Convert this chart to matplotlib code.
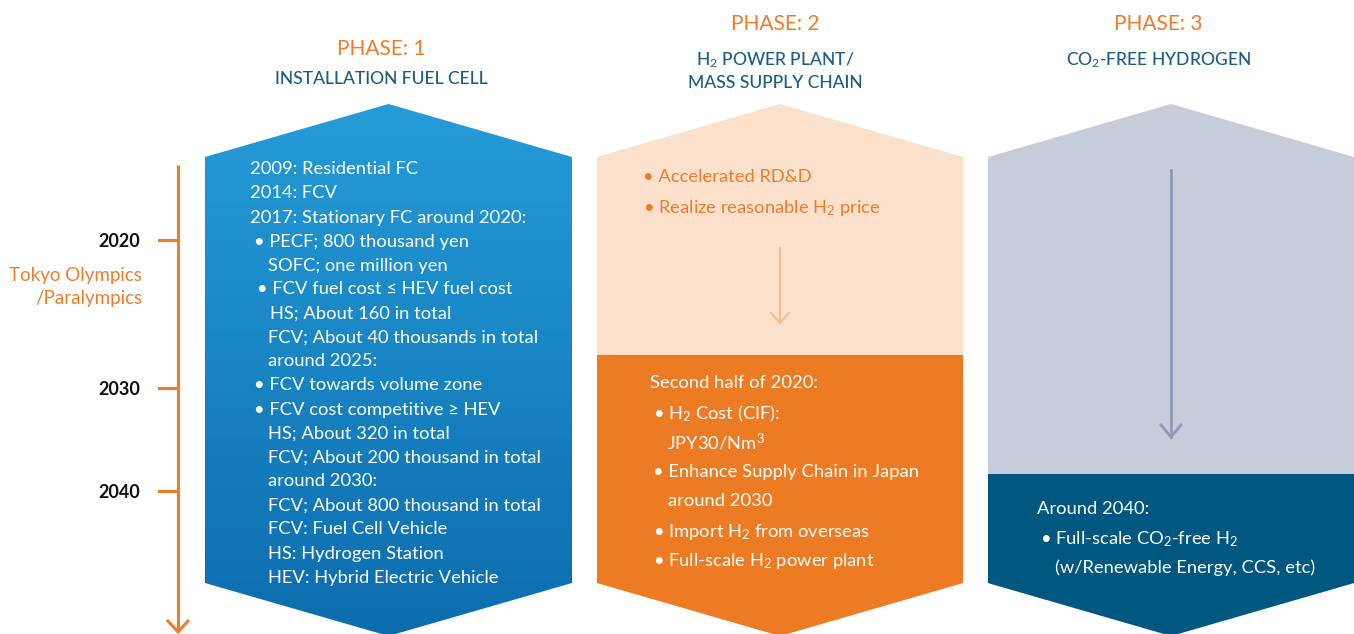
import matplotlib

matplotlib.use("Agg")
import matplotlib.pyplot as plt
import numpy as np
from matplotlib.patches import Polygon

plt.rcParams["font.family"] = ["Lato", "DejaVu Sans"]
plt.rcParams["mathtext.fontset"] = "custom"
plt.rcParams["mathtext.rm"] = "Lato"
plt.rcParams["mathtext.it"] = "Lato"
plt.rcParams["mathtext.bf"] = "Lato:bold"

# ==================== Data ====================
YEARS = ["2020", "2030", "2040"]
EVENT = "Tokyo Olympics\n/Paralympics"

PHASE_NAMES = ["PHASE: 1", "PHASE: 2", "PHASE: 3"]
PHASE_TITLES = [
    ["INSTALLATION FUEL CELL"],
    ["H$_2$ POWER PLANT/", "MASS SUPPLY CHAIN"],
    ["CO$_2$-FREE HYDROGEN"],
]

PHASE1_LINES = [
    "2009: Residential FC",
    "2014: FCV",
    "2017: Stationary FC around 2020:",
    "• PECF; 800 thousand yen",
    "SOFC; one million yen",
    "• FCV fuel cost ≤ HEV fuel cost",
    "HS; About 160 in total",
    "FCV; About 40 thousands in total",
    "around 2025:",
    "• FCV towards volume zone",
    "• FCV cost competitive ≥ HEV",
    "HS; About 320 in total",
    "FCV; About 200 thousand in total",
    "around 2030:",
    "FCV; About 800 thousand in total",
    "FCV: Fuel Cell Vehicle",
    "HS: Hydrogen Station",
    "HEV: Hybrid Electric Vehicle",
]
PHASE2_TOP = ["• Accelerated RD&D", "• Realize reasonable H$_2$ price"]
PHASE2_BOTTOM = [
    "Second half of 2020:",
    "• H$_2$ Cost (CIF):",
    "JPY30/Nm$^3$",
    "• Enhance Supply Chain in Japan",
    "around 2030",
    "• Import H$_2$ from overseas",
    "• Full-scale H$_2$ power plant",
]
PHASE3_BOTTOM = [
    "Around 2040:",
    "• Full-scale CO$_2$-free H$_2$",
    "(w/Renewable Energy, CCS, etc)",
]
# ===============================================

# layout (pixel coords, y down)
W, H = 1354, 634
ORANGE = "#ee7d2b"
NAVY = "#1b5c86"
PANEL_X = [(205, 572), (597, 963), (988, 1354)]
HEADER_X = [381, 775, 1158]
TOP_PEAK, SHOULDER_TOP, SHOULDER_BOT, BOT_PEAK = 104, 157, 583, 636
YEAR_Y = [240, 388, 491]
LINE_X = 178


def hexagon(x0, x1):
    xm = (x0 + x1) / 2
    return [(x0, SHOULDER_TOP), (xm, TOP_PEAK), (x1, SHOULDER_TOP),
            (x1, SHOULDER_BOT), (xm, BOT_PEAK), (x0, SHOULDER_BOT)]


fig = plt.figure(figsize=(W / 100, H / 100), dpi=100)
ax = fig.add_axes([0, 0, 1, 1])
ax.set_xlim(0, W)
ax.set_ylim(H, 0)
ax.axis("off")

# ---- timeline ----
ax.plot([LINE_X, LINE_X], [165, 632], color=ORANGE, lw=2.2, solid_capstyle="butt")
ax.plot([LINE_X - 10, LINE_X, LINE_X + 10], [621, 632, 621], color=ORANGE, lw=2.2)
for yr, y in zip(YEARS, YEAR_Y):
    ax.plot([159, LINE_X], [y, y], color=ORANGE, lw=2.2)
    ax.text(140, y, yr, ha="right", va="center_baseline", fontsize=13,
            fontweight="bold", color="#111111")
ax.text(142, 287, EVENT, ha="right", va="center", fontsize=13.5,
        color=ORANGE, linespacing=1.4)

# ---- phase 1: gradient blue hexagon ----
x0, x1 = PANEL_X[0]
poly = Polygon(hexagon(x0, x1), closed=True, facecolor="none", edgecolor="none")
ax.add_patch(poly)
grad = np.linspace(0, 1, 256).reshape(-1, 1)
top_c = np.array([0x25, 0x9c, 0xd8]) / 255
bot_c = np.array([0x0c, 0x6c, 0xae]) / 255
img = top_c + (bot_c - top_c) * grad[:, :, None] * np.ones((1, 2, 1))
im = ax.imshow(img, extent=(x0, x1, BOT_PEAK, TOP_PEAK), aspect="auto",
               interpolation="bilinear", zorder=1)
im.set_clip_path(poly)

# ---- phase 2 ----
x0, x1 = PANEL_X[1]
ax.add_patch(Polygon(hexagon(x0, x1), closed=True, facecolor="#fbe0cb",
                     edgecolor="none", zorder=1))
split2 = 355
ax.add_patch(Polygon([(x0, split2), (x1, split2), (x1, SHOULDER_BOT),
                      ((x0 + x1) / 2, BOT_PEAK), (x0, SHOULDER_BOT)],
                     closed=True, facecolor="#ed7b24", edgecolor="none", zorder=2))
xm = (x0 + x1) / 2
ax.plot([xm, xm], [248, 323], color="#f6bb8e", lw=1.5, zorder=3)
ax.plot([xm - 9, xm, xm + 9], [313, 323, 313], color="#f6bb8e", lw=1.5, zorder=3)

# ---- phase 3 ----
x0, x1 = PANEL_X[2]
ax.add_patch(Polygon(hexagon(x0, x1), closed=True, facecolor="#c6ccda",
                     edgecolor="none", zorder=1))
split3 = 474
ax.add_patch(Polygon([(x0, split3), (x1, split3), (x1, SHOULDER_BOT),
                      ((x0 + x1) / 2, BOT_PEAK), (x0, SHOULDER_BOT)],
                     closed=True, facecolor="#00577f", edgecolor="none", zorder=2))
xm = (x0 + x1) / 2
ax.plot([xm, xm], [170, 437], color="#8e9abb", lw=2, zorder=3)
ax.plot([xm - 10, xm, xm + 10], [425, 437, 425], color="#8e9abb", lw=2, zorder=3)

# ---- headers ----
header_y = [(47, [77]), (22, [58, 81]), (22, [58])]
for xm, name, titles, (py, ty) in zip(HEADER_X, PHASE_NAMES, PHASE_TITLES, header_y):
    ax.text(xm, py, name, ha="center", va="center_baseline", fontsize=15,
            color=ORANGE)
    for t, y in zip(titles, ty):
        ax.text(xm, y, t, ha="center", va="center_baseline", fontsize=12.6,
                color=NAVY, fontweight="medium")

# ---- panel texts ----
p1_x = [250, 250, 250, 254, 268, 257, 270, 268, 268, 254, 254, 268, 268, 268, 268, 268, 268, 268]
for i, line in enumerate(PHASE1_LINES):
    ax.text(p1_x[i], 168 + i * 24.0, line, color="white", fontsize=13.2,
            ha="left", va="center_baseline", zorder=5)

for i, line in enumerate(PHASE2_TOP):
    ax.text(643, 175 + i * 30, line, color=ORANGE, fontsize=13.2,
            ha="left", va="center_baseline", zorder=5)

p2_x = [650, 653, 667, 653, 668, 653, 653]
for i, line in enumerate(PHASE2_BOTTOM):
    ax.text(p2_x[i], 382 + i * 29.4, line, color="white", fontsize=13.2,
            ha="left", va="center_baseline", zorder=5)

p3_x = [1037, 1040, 1055]
for i, line in enumerate(PHASE3_BOTTOM):
    ax.text(p3_x[i], 507 + i * 29.5, line, color="white", fontsize=13.2,
            ha="left", va="center_baseline", zorder=5)

fig.savefig("out.png", dpi=100)
